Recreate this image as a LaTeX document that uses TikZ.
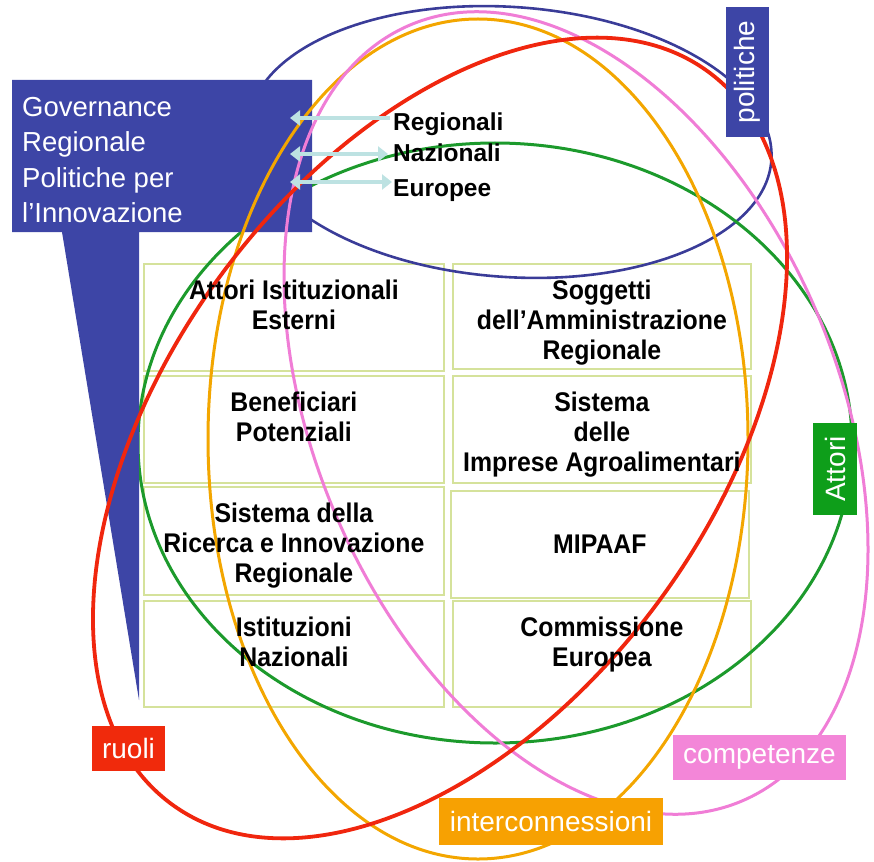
\documentclass[tikz,border=0pt]{standalone}
\usepackage{fontspec}
\setmainfont{Liberation Sans}
\newfontfamily\cellfont[FakeStretch=0.92]{Liberation Sans}
\usetikzlibrary{arrows.meta}
\definecolor{govblue}{HTML}{3D45A6}
\definecolor{ellblue}{HTML}{3A3C98}
\definecolor{ellgreen}{HTML}{1C9A2C}
\definecolor{boxgreen}{HTML}{0E9E1A}
\definecolor{ellred}{HTML}{F0260E}
\definecolor{boxred}{HTML}{F02A0C}
\definecolor{ellorange}{HTML}{F3A600}
\definecolor{boxorange}{HTML}{F7A102}
\definecolor{ellpink}{HTML}{F07DD6}
\definecolor{boxpink}{HTML}{F386D8}
\definecolor{cellline}{HTML}{D5E29B}
\definecolor{arrowcyan}{HTML}{BDE2E2}
\begin{document}
\begin{tikzpicture}[x=1pt,y=1pt,
  cell/.style={draw=cellline,line width=1.8pt,fill=white,anchor=north west,inner sep=0pt,minimum width=300pt,minimum height=107pt},
  celltext/.style={font=\cellfont\bfseries\fontsize{27}{30}\selectfont,align=center,inner sep=0pt,anchor=north},
  lbl/.style={text=white,font=\fontsize{28}{30}\selectfont,inner sep=0pt,minimum height=45pt},
  ell/.style={line width=3pt},
  arrline/.style={draw=arrowcyan,line width=4.5pt},
  tip/.tip={Triangle[length=10pt,width=15pt]},
  leveltext/.style={anchor=base west,inner sep=0pt,font=\bfseries\fontsize{24.5}{26}\selectfont},
]
\useasboundingbox (0,0) rectangle (874,-861);
% table cells
\node[cell] (c11) at (143,-263) {};
\node[cell,minimum width=298pt,minimum height=105pt] (c12) at (452,-263) {};
\node[cell] (c21) at (143,-375) {};
\node[cell,minimum width=298pt] (c22) at (452,-375) {};
\node[cell,minimum height=108pt] (c31) at (143,-486) {};
\node[cell,minimum width=298pt] (c32) at (450,-490) {};
\node[cell,minimum height=106pt] (c41) at (143,-600) {};
\node[cell,minimum width=298pt,minimum height=106pt] (c42) at (452,-600) {};
% ellipses under the governance box
\draw[ell,ellblue,line width=2.6pt,rotate around={-4:(510,-142)}] (510,-142) ellipse [x radius=262,y radius=135];
\draw[ell,ellgreen] (495,-443) ellipse [x radius=357,y radius=300];
% governance callout
\fill[govblue] (12,-80) -- (312,-80) -- (312,-232) -- (139,-232) -- (139,-700) -- (62,-232) -- (12,-232) -- cycle;
% ellipses over the box
\draw[ell,ellorange] (478,-439) ellipse [x radius=270,y radius=420];
\draw[ell,ellpink,rotate around={-66.75:(576,-413)}] (576,-413) ellipse [x radius=422,y radius=261];
\draw[ell,ellred,line width=3.8pt,rotate around={53.8:(440,-438)}] (440,-438) ellipse [x radius=454,y radius=273];
% arrows
\coordinate (a1l) at (290,-118); \coordinate (a1r) at (390,-118);
\coordinate (a2l) at (290,-154); \coordinate (a2r) at (388,-154);
\coordinate (a3l) at (290,-182); \coordinate (a3r) at (392,-182);
\draw[arrline,-tip] (a1r) -- (a1l);
\draw[arrline,tip-tip] (a2l) -- (a2r);
\draw[arrline,tip-tip] (a3l) -- (a3r);
% texts
\node[anchor=north west,inner sep=0pt,align=left,text=white,font=\fontsize{27.5}{35.5}\selectfont] (gov) at (22,-97) {Governance\\Regionale\\Politiche per\\l’Innovazione};
\node[leveltext] (reg) at (393,-131) {Regionali};
\node[leveltext] (naz) at (393,-161) {Nazionali};
\node[leveltext] (eur) at (393,-196) {Europee};
\node[celltext] (t11) at ([yshift=-17pt]c11.north) {Attori Istituzionali\\Esterni};
\node[celltext] (t12) at ([yshift=-17pt]c12.north) {Soggetti\\dell’Amministrazione\\Regionale};
\node[celltext] (t21) at ([yshift=-17pt]c21.north) {Beneficiari\\Potenziali};
\node[celltext] (t22) at ([yshift=-17pt]c22.north) {Sistema\\delle\\Imprese Agroalimentari};
\node[celltext] (t31) at ([yshift=-17pt]c31.north) {Sistema della\\Ricerca e Innovazione\\Regionale};
\node[celltext,anchor=center] (t32) at (c32.center) {MIPAAF};
\node[celltext] (t41) at ([yshift=-17pt]c41.north) {Istituzioni\\Nazionali};
\node[celltext] (t42) at ([yshift=-17pt]c42.north) {Commissione\\Europea};
% labels
\node[lbl,fill=govblue,rotate=90,minimum width=130pt,minimum height=43pt] (pol) at (747.5,-72) {politiche};
\node[lbl,fill=boxgreen,rotate=90,minimum width=92pt,minimum height=44pt] (att) at (835,-469) {Attori};
\node[lbl,fill=boxred,minimum width=73pt] (ruo) at (128.5,-748) {ruoli};
\node[lbl,fill=boxpink,minimum width=173pt] (com) at (759.5,-757.5) {competenze};
\node[lbl,fill=boxorange,minimum width=224pt,minimum height=47pt] (int) at (551,-821.5) {interconnessioni};
\end{tikzpicture}
\end{document}
